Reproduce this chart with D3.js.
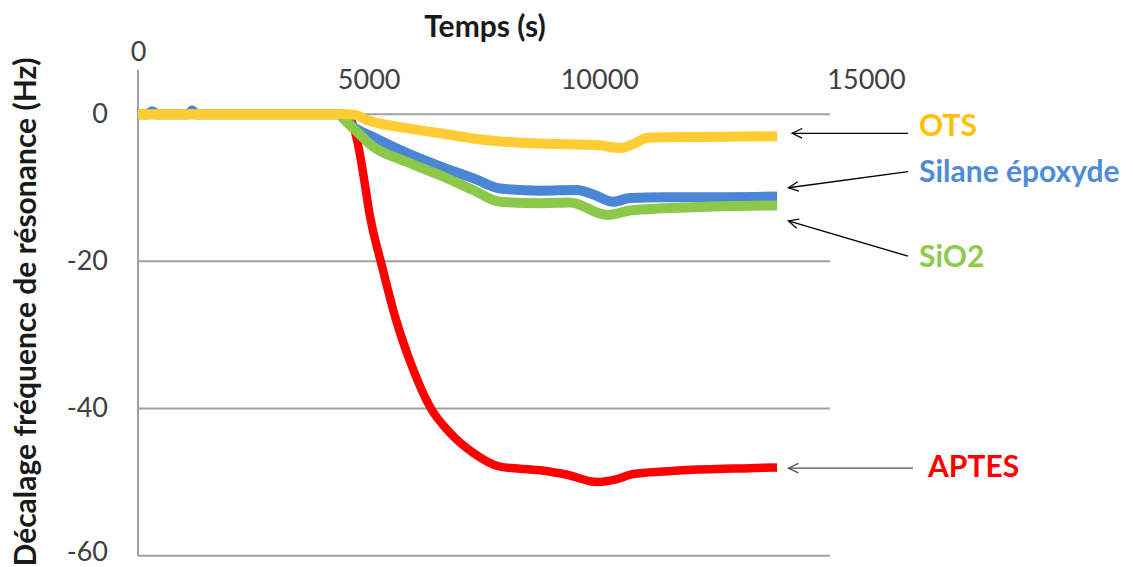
<!DOCTYPE html>
<html><head><meta charset="utf-8">
<script src="https://cdn.jsdelivr.net/npm/d3@7"></script>
<style>html,body{margin:0;padding:0;background:#fff;} text{font-family:Lato,"Open Sans",sans-serif;}</style>
</head><body><svg id="c" width="1133" height="567"></svg>
<script>
// ---- data (time in s, shift in Hz) ----
const xTicks = [0, 5000, 10000, 15000];
const yTicks = [0, -20, -40, -60];

const otsTime  = [0, 2000, 4500, 4705, 4965, 5832, 6547, 7263, 7848, 8715, 9951, 10450, 10800, 11035, 12184, 13853];
const otsShift = [0, 0, 0, -0.1, -0.8, -1.9, -2.6, -3.3, -3.7, -4.0, -4.2, -4.6, -3.9, -3.2, -3.1, -3.0];

const silTime  = [0, 200, 304, 420, 1000, 1100, 1171, 1260, 2000, 4400, 4661, 5095, 5832, 6547, 7263, 7848, 8715, 9518, 9900, 10298, 10667, 11382, 12184, 13853];
const silShift = [0, 0, 0.4, 0, 0, 0, 0.5, 0, 0, 0, -1.7, -3.1, -5.3, -7.1, -8.7, -10.1, -10.4, -10.3, -11.0, -11.9, -11.4, -11.3, -11.3, -11.2];

const sioTime  = [0, 2000, 4300, 4596, 5095, 5832, 6547, 7263, 7848, 8715, 9366, 10168, 10667, 11382, 12184, 13853];
const sioShift = [0, 0, 0, -1.5, -4.4, -6.5, -8.3, -10.3, -11.9, -12.1, -12.0, -13.7, -13.1, -12.8, -12.6, -12.4];

const aptTime  = [0, 2000, 4500, 4748, 4856, 5030, 5290, 5572, 5940, 6331, 6764, 7263, 7848, 8715, 9301, 9951, 10384, 10732, 11816, 13268, 13853];
const aptShift = [0, 0, 0, -3.5, -7.1, -13.9, -20.7, -27.5, -34.3, -39.8, -43.3, -46.0, -47.9, -48.4, -49.0, -50.0, -49.6, -48.9, -48.4, -48.1, -48.0];

const seriesNames = ["APTES", "Silane époxyde", "SiO2", "OTS"];
// annotation arrows in data units: tip (t,v), tail (t,v), label (t,v)
const annTipT   = [14100, 14100, 14100, 14180];
const annTipV   = [-48.1, -10.0, -14.5, -2.6];
const annTailT  = [16800, 16690, 16690, 16690];
const annTailV  = [-48.1, -7.8, -19.3, -2.6];
const annLabelT = [17125, 16930, 16930, 16930];
const annLabelV = [-49.3, -9.2, -20.8, -3.0];

const xTitle = "Temps (s)";
const yTitle = "Décalage fréquence de résonance (Hz)";

// ---- drawing ----
const lineColors  = {"APTES":"#ff0000","Silane époxyde":"#4a86d6","SiO2":"#8cc84a","OTS":"#ffcc33"};
const labelColors = {"APTES":"#ff0000","Silane époxyde":"#4f8bd6","SiO2":"#8ccb4c","OTS":"#ffc000"};
const widths = {"APTES":8.5,"Silane époxyde":10,"SiO2":10,"OTS":10};

const svg = d3.select("#c");
svg.append("rect").attr("width",1133).attr("height",567).attr("fill","#fff");

const x = d3.scaleLinear().domain([0,15000]).range([138,830]);
const y = d3.scaleLinear().domain([-60,6]).range([555.7,70]);

// gridlines
svg.append("g").selectAll("line").data(yTicks).join("line")
  .attr("x1",x(0)).attr("x2",x(15000)).attr("y1",d=>y(d)).attr("y2",d=>y(d))
  .attr("stroke","#a0a0a0").attr("stroke-width",2);
// y axis line
svg.append("line").attr("x1",x(0)).attr("x2",x(0)).attr("y1",y(6)).attr("y2",y(-60))
  .attr("stroke","#a0a0a0").attr("stroke-width",2);

// y axis labels
const yAx = svg.append("g").attr("transform",`translate(${x(0)-30},0)`)
  .call(d3.axisLeft(y).tickValues(yTicks).tickSize(0).tickFormat(d=>String(d)));
yAx.select(".domain").remove();
yAx.selectAll("text").attr("font-size",27).attr("fill","#404040").attr("font-family","Lato")
  .attr("x",0).attr("dy","0.3em");
yAx.selectAll(".tick").filter(d=>d===-60).select("text").attr("dy","0.18em");

// x axis labels (top)
const xAx = svg.append("g").attr("transform","translate(0,80)")
  .call(d3.axisTop(x).tickValues(xTicks).tickSize(0).tickFormat(d=>String(d)));
xAx.select(".domain").remove();
xAx.selectAll("text").attr("font-size",27).attr("fill","#404040").attr("font-family","Lato")
  .attr("y",0).attr("dy","0.35em");
xAx.selectAll(".tick").filter(d=>d===0).select("text").attr("y",-28);
xAx.selectAll(".tick").filter(d=>d===15000).select("text").attr("x",36);

// titles
svg.append("text").attr("x",485).attr("y",37).attr("text-anchor","middle")
  .attr("font-size",30).attr("font-weight","bold").attr("fill","#1a1a1a").text(xTitle);
svg.append("text").attr("transform","translate(36,312) rotate(-90)").attr("text-anchor","middle")
  .attr("font-size",30).attr("font-weight","bold").attr("fill","#1a1a1a").text(yTitle);

// series
const series = {
  "APTES": aptTime.map((t,i)=>[t,aptShift[i]]),
  "Silane époxyde": silTime.map((t,i)=>[t,silShift[i]]),
  "SiO2": sioTime.map((t,i)=>[t,sioShift[i]]),
  "OTS": otsTime.map((t,i)=>[t,otsShift[i]])
};
const line = d3.line().x(d=>x(d[0])).y(d=>y(d[1])).curve(d3.curveMonotoneX);
seriesNames.forEach(n=>{
  svg.append("path").datum(series[n]).attr("d",line).attr("fill","none")
    .attr("stroke",lineColors[n]).attr("stroke-width",widths[n])
    .attr("stroke-linecap","butt").attr("stroke-linejoin","round");
});

// annotations
seriesNames.forEach((n,i)=>{
  const tx=x(annTipT[i]), ty=y(annTipV[i]), sx=x(annTailT[i]), sy=y(annTailV[i]);
  const g = svg.append("g");
  g.append("line").attr("x1",sx).attr("y1",sy).attr("x2",tx).attr("y2",ty)
    .attr("stroke", n==="APTES"?"#505050":"#000").attr("stroke-width",1.3);
  const ang = Math.atan2(sy-ty, sx-tx), L=11, a=0.45;
  const p1=[tx+L*Math.cos(ang+a), ty+L*Math.sin(ang+a)], p2=[tx+L*Math.cos(ang-a), ty+L*Math.sin(ang-a)];
  g.append("path").attr("d",`M${p1}L${tx},${ty}L${p2}`).attr("fill","none")
    .attr("stroke",n==="APTES"?"#505050":"#000").attr("stroke-width",1.3);
  svg.append("text").attr("x",x(annLabelT[i])).attr("y",y(annLabelV[i]))
    .attr("font-size",30).attr("font-weight","bold").attr("fill",labelColors[n]).text(n);
});
</script></body></html>
